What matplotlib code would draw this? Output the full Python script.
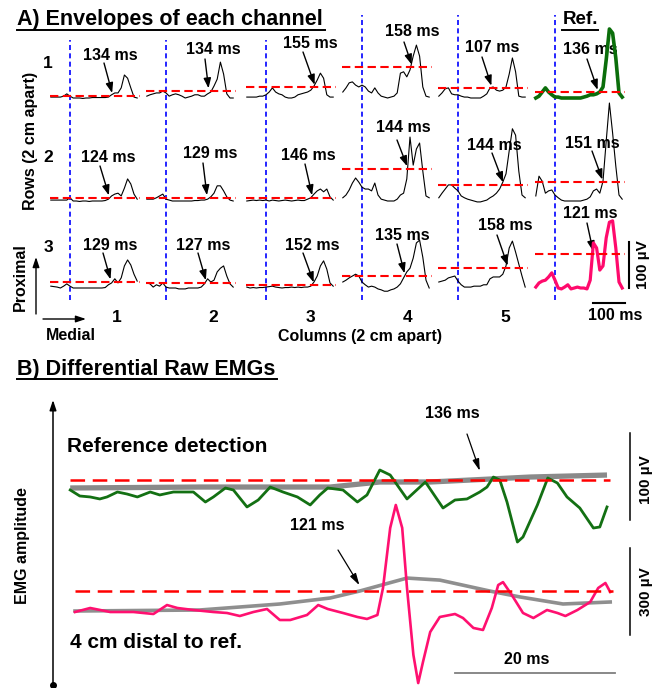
import matplotlib
matplotlib.use("Agg")
import matplotlib.pyplot as plt

plt.rcParams['font.family'] = ['Liberation Sans', 'DejaVu Sans']
plt.rcParams['font.weight'] = 'bold'
plt.rcParams['lines.scale_dashes'] = False
plt.rcParams['lines.solid_joinstyle'] = 'round'

# ---------------- DATA: panel A (envelopes, uV) ----------------
# time in ms relative to the blue marker of each column
t_env = [-60, -50, -40, -30, -20, -10, 0, 10, 20, 30, 40, 50, 60, 70,
         80, 90, 100, 110, 120, 130, 140, 150, 160, 170, 180, 190, 200, 210]

env_r1c1 = [2, 2, 2, 2, 4, 9, 4, 0, 0, 0, -1, 0, 0, 1, 1, 1, 1, 1, 2, 7, 11, 11, 22, 50, 43, 22, 2, 0]
env_r1c2 = [4, 7, 9, 11, 11, 15, 11, 4, 7, 9, 7, 4, 0, 2, 4, 7, 7, 4, 4, 9, 13, 26, 41, 78, 52, 9, 0, 0]
env_r1c3 = [2, 2, 2, 2, 4, 4, 7, 13, 22, 13, 9, 7, 2, 0, 0, 2, 7, 9, 11, 13, 17, 26, 39, 54, 43, 7, 2, 2]
env_r1c4 = [13, 22, 33, 35, 28, 24, 28, 24, 15, 11, 22, 11, 4, 2, 0, 2, 4, 11, 54, 57, 46, 61, 91, 115, 91, 24, 4, 2]
env_r1c5 = [4, 11, 20, 22, 9, 7, 7, 4, 2, 2, 0, 0, 0, 0, 4, 9, 22, 24, 17, 15, 17, 24, 52, 87, 57, 4, 2, 2]
env_r1ref = [0, 4, 13, 22, 13, 7, 2, 2, 0, 0, 0, 0, 0, 0, 0, 2, 4, 7, 7, 9, 13, 24, 83, 150, 141, 87, 11, 2]

env_r2c1 = [2, 2, 2, 2, 2, 2, 7, 0, 0, -1, 0, 0, -1, 0, 0, 0, 0, 1, 4, 11, 15, 17, 11, 28, 48, 37, 15, 4]
env_r2c2 = [4, 4, 4, 7, 11, 15, 4, 2, 0, 0, 0, 0, 0, 0, 0, 1, 1, 2, 2, 4, 9, 17, 33, 33, 22, 9, 2, 0]
env_r2c3 = [0, 1, 2, 1, 2, 1, 2, 0, 2, 1, 0, 1, 2, 1, 0, 1, 2, 1, 1, 4, 7, 15, 22, 26, 20, 26, 9, 2]
env_r2c4 = [7, 13, 24, 39, 50, 41, 30, 26, 26, 22, 39, 13, 4, 2, 0, 0, 0, 4, 13, 17, 48, 139, 78, 113, 126, 65, 11, 7]
env_r2c5 = [7, 17, 26, 35, 35, 28, 22, 11, 7, 4, 2, 0, -2, -2, 0, 2, 7, 11, 17, 26, 41, 59, 109, 157, 143, 65, 13, 7]
env_r2ref = [11, 54, 43, 17, 22, 24, 13, 7, 2, 0, 0, 0, 0, 0, 0, 2, 4, 9, 22, 26, 17, 43, 130, 213, 148, 76, 13, 4]

env_r3c1 = [4, 3, 2, 0, 4, 9, 4, 0, 0, 0, 0, 0, 0, 0, 0, 0, 0, 1, 7, 11, 20, 11, 22, 48, 61, 50, 30, 15]
env_r3c2 = [11, 9, 2, 7, 4, 11, 2, 0, 0, 0, -2, -2, -2, 0, 0, 0, 0, 2, 9, 20, 13, 17, 35, 43, 48, 26, 9, 2]
env_r3c3 = [2, 0, 1, 0, 1, 1, 2, 3, 4, 2, 1, 0, 1, 1, 2, 1, 2, 1, 2, 2, 4, 13, 26, 48, 59, 41, 11, 4]
env_r3c4 = [13, 17, 22, 26, 30, 26, 13, 7, 2, 4, 2, -2, -4, -7, -7, -4, -2, 2, 9, 22, 35, 43, 65, 98, 104, 67, 17, 0]
env_r3c5 = [13, 15, 17, 22, 24, 26, 15, 7, 2, 2, 2, 4, 4, 4, 7, 7, 20, 24, 24, 24, 30, 48, 87, 102, 78, 52, 26, 2]
env_r3ref = [2, 11, 15, 17, 24, 33, 17, 0, -2, 2, 7, -2, 0, 2, 0, 0, -2, 17, 98, 87, 39, 48, 109, 143, 146, 87, 13, 0]

onset_r1 = [134, 134, 155, 158, 107, 136]
onset_r2 = [124, 129, 146, 144, 144, 151]
onset_r3 = [129, 127, 152, 135, 158, 121]
thr_r1 = [5, 15, 23, 67, 21, 12]
thr_r2 = [6.5, 6.5, 6.5, 70, 35, 41]
thr_r3 = [13, 11, 6.5, 26, 43, 74]
col_labels = ['1', '2', '3', '4', '5']
row_labels = ['1', '2', '3']

# ---------------- DATA: panel B (raw EMG, uV vs ms) ----------------
t_ref = [84.4, 85.6, 86.9, 88.1, 89.0, 90.3, 91.5, 92.8, 94.4, 95.6,
         97.3, 99.8, 101.3, 102.3, 103.8, 104.8, 106.5, 107.9, 109.4, 111.0,
         112.8, 114.4, 115.6, 116.6, 118.5, 120.3, 121.5, 123.1, 124.4, 126.5,
         128.8, 131.0, 132.5, 134.0, 135.6, 136.5, 137.3, 138.1, 139.0, 140.3,
         141.0, 142.8, 144.1, 145.3, 146.5, 148.1, 149.8, 150.6, 151.5]
emg_ref = [0, -6.9, -8, -10.3, -8, -2.3, -4.6, -8, -2.3, -5.7,
           -2.3, -2.3, -13.8, -8, 2.3, 0, -19.5, -11.5, 3.4, -2.3,
           -8, -17.2, -5.7, 2.3, 0, -13.8, -5.7, 23, 17.2, -10.3,
           9.2, -20.7, -11.5, -10.3, -2.3, 3.4, 14.9, 11.5, -13.8, -59.8,
           -54, -17.2, 13.8, 8, -8, -20.7, -43.7, -42.5, -19.5]
t_ref_env = [84.4, 100.6, 116.9, 123.1, 129.4, 136.9, 141.9, 151.5]
env_ref = [2.3, 3.4, 3.4, 9.2, 9.2, 12.6, 14.9, 17.2]
thr_ref_b = 11.5
onset_ref_b = 136

t_dist = [85.0, 86.9, 89.4, 92.3, 94.8, 96.5, 97.8, 99.8, 102.3, 104.0,
          105.6, 107.3, 109.0, 110.6, 111.9, 114.0, 115.4, 116.6,
          118.5, 120.3, 121.5, 122.8, 123.5, 124.4, 125.1, 125.9, 126.5, 127.3,
          127.9, 128.5, 129.4, 130.6, 132.5, 133.5, 134.8, 136.0, 137.1, 137.9,
          138.5, 139.6, 141.0, 142.3, 144.0, 145.3, 146.3, 147.8, 149.4, 150.4,
          151.3, 151.9]
emg_dist = [0, 13.8, 0, 0, -6.9, 24, 13.8, 6.9, 0, -3.4,
            -13.8, 0, 10.3, -27.6, -27.6, -10.3, 24, 10.3,
            -3.4, -17.2, -24, -10.3, 82.8, 290, 369, 290, 82.8, -148,
            -245, -172, -69, -17.2, -6.9, -20.7, -55, -62, 13.8, 93,
            103, 58.6, -3.4, -20.7, 6.9, -3.4, -13.8, 6.9, 34.5, 82.8,
            100, 69]
t_dist_env = [85.0, 100.6, 110.6, 116.9, 120.6, 126.5, 130.6, 136.9, 140.6, 146.0, 151.9]
env_dist = [3.4, 6.9, 27.6, 48.3, 72.4, 117, 110, 72, 52, 27.6, 34.5]
thr_dist_b = 72
onset_dist_b = 121

# ---------------- LAYOUT ----------------
W, H = 663, 688
fig = plt.figure(figsize=(W / 100, H / 100), dpi=100)


def px_axes(box, xo, to, sx, yo, sy):
    """axes on a pixel box; data x=to at pixel xo (sx px/unit), y=0 at pixel yo (sy px/unit)"""
    x0, x1, y0, y1 = box
    ax = fig.add_axes([x0 / W, 1 - y1 / H, (x1 - x0) / W, (y1 - y0) / H])
    ax.set_xlim(to + (x0 - xo) / sx, to + (x1 - xo) / sx)
    ax.set_ylim((yo - y1) / sy, (yo - y0) / sy)
    ax.set_axis_off()
    return ax


col_x = [70, 166, 266, 362, 458, 555]
row_y = [98, 201, 288]
SX, SY = 0.32, 0.46
blue_top = [40, 40, 40, 15, 15, 15]

for c, xb in enumerate(col_x):
    axc = px_axes((xb - 25, xb + 78, blue_top[c], 300), xb, 0, SX, 300, SY)
    axc.axvline(0, color='#0000ff', lw=1.2, dashes=(3.6, 2.4))

ov = fig.add_axes([0, 0, 1, 1])
ov.set_xlim(0, W)
ov.set_ylim(H, 0)
ov.set_axis_off()

envs = [[env_r1c1, env_r1c2, env_r1c3, env_r1c4, env_r1c5, env_r1ref],
        [env_r2c1, env_r2c2, env_r2c3, env_r2c4, env_r2c5, env_r2ref],
        [env_r3c1, env_r3c2, env_r3c3, env_r3c4, env_r3c5, env_r3ref]]
onsets = [onset_r1, onset_r2, onset_r3]
thrs = [thr_r1, thr_r2, thr_r3]

lab_pos = [[(110, 55), (213, 50), (310, 43), (412, 32), (492, 47), (590, 50)],
           [(108, 158), (210, 154), (308, 155), (403, 128), (494, 145), (592, 143)],
           [(110, 245), (203, 245), (312, 245), (402, 235), (505, 226), (590, 213)]]
tail_pos = [[(104, 63), (205, 59), (303, 52), (404, 42), (482, 57), (587, 59)],
            [(100, 166), (203, 163), (305, 164), (397, 140), (492, 153), (592, 151)],
            [(103, 253), (198, 253), (303, 253), (397, 244), (497, 235), (587, 223)]]
ref_style = [dict(color='#0b6e0b', lw=2.6), dict(color='black', lw=0.8),
             dict(color='#ff0a6c', lw=2.3)]

cell_axes = {}
for r in range(3):
    for c in range(6):
        xb = col_x[c]
        ax = px_axes((xb - 25, xb + 78, row_y[r] - 110, row_y[r] + 20), xb, 0, SX, row_y[r], SY)
        cell_axes[(r, c)] = ax
        st = ref_style[r] if c == 5 else dict(color='black', lw=0.8)
        ax.plot(t_env, envs[r][c], clip_on=False, **st)
        ax.plot([t_env[0] - 2, t_env[-1] + 8], [thrs[r][c]] * 2, color='#ff0000',
                lw=1.5, dashes=(6, 3.2), clip_on=False)
        ov.annotate('', xy=(onsets[r][c], thrs[r][c]), xycoords=ax.transData,
                    xytext=tail_pos[r][c], textcoords='data',
                    arrowprops=dict(arrowstyle='-|>,head_length=0.6,head_width=0.22',
                                    color='black', lw=1.0, shrinkA=0, shrinkB=2,
                                    mutation_scale=10))
        ov.text(lab_pos[r][c][0], lab_pos[r][c][1], f'{onsets[r][c]} ms',
                ha='center', va='center', fontsize=11.5, fontweight='bold')

# scale bars panel A (in ref row 3 axes)
axs = cell_axes[(2, 5)]
axs.plot([231, 231], [0, 100], color='black', lw=1.5, clip_on=False)
axs.plot([118, 218], [-32, -32], color='black', lw=1.5, clip_on=False)
ov.text(643, 265, '100 µV', rotation=90, ha='center', va='center', fontsize=11)
ov.text(615, 315, '100 ms', ha='center', va='center', fontsize=11.5)

# panel A texts
tA = ov.text(17, 19, 'A) Envelopes of each channel', ha='left', va='center',
             fontsize=15.5, fontweight='bold')
ov.plot([17, 325], [30, 30], color='black', lw=1.4)
ov.text(580, 20, 'Ref.', ha='center', va='center', fontsize=13.5, fontweight='bold')
ov.plot([562, 598], [30, 30], color='black', lw=1.4)
for lbl, y in zip(row_labels, [64, 157, 248]):
    ov.text(48, y, lbl, ha='center', va='center', fontsize=12.5)
for lbl, x in zip(col_labels, [117, 213, 310, 408, 505]):
    ov.text(x, 317, lbl, ha='center', va='center', fontsize=12.5)
ov.text(31, 141, 'Rows (2 cm apart)', rotation=90, ha='center', va='center', fontsize=11.5)
ov.text(20, 277, 'Proximal', rotation=90, ha='center', va='center', fontsize=11.5)
ov.text(71, 335, 'Medial', ha='center', va='center', fontsize=11.5)
ov.text(360, 336, 'Columns (2 cm apart)', ha='center', va='center', fontsize=11.5)
arr = dict(arrowstyle='-|>,head_length=0.6,head_width=0.2', color='black', lw=1.0,
           shrinkA=0, shrinkB=0, mutation_scale=10)
ov.annotate('', xy=(36, 257), xytext=(36, 314), arrowprops=arr)
ov.annotate('', xy=(86, 319), xytext=(43, 319), arrowprops=arr)

# ---------------- panel B ----------------
BX0, BT0, BSX = 483, 136, 8.0
axb1 = px_axes((60, 663, 395, 565), BX0, BT0, BSX, 490, 0.87)
axb2 = px_axes((60, 663, 500, 688), BX0, BT0, BSX, 612, 0.29)

axb1.plot(t_ref_env, env_ref, color='#8a8a8a', lw=3.8, solid_capstyle='butt', clip_on=False)
axb1.plot(t_ref, emg_ref, color='#137013', lw=2.0, clip_on=False)
axb1.plot([t_ref[0], t_ref[-1] + 0.4], [thr_ref_b] * 2, color='#ff0000', lw=1.8,
          dashes=(10.5, 5.5), clip_on=False)

axb2.plot(t_dist_env, env_dist, color='#8f8f8f', lw=2.6, clip_on=False)
axb2.plot(t_dist, emg_dist, color='#ff1070', lw=1.9, clip_on=False)
axb2.plot([t_dist[0], t_dist[-1] + 0.4], [thr_dist_b] * 2, color='#ff0000', lw=1.8,
          dashes=(10.5, 5.5), clip_on=False)

# scale bars panel B
axb1.plot([154.4, 154.4], [-34.5, 65.5], color='black', lw=1.1, clip_on=False)
axb2.plot([154.4, 154.4], [-79.3, 220.7], color='black', lw=1.1, clip_on=False)
axb2.plot([132.5, 152.5], [-210, -210], color='#7f7f7f', lw=1.3, clip_on=False)
ov.text(646, 480, '100 µV', rotation=90, ha='center', va='center', fontsize=11)
ov.text(646, 592, '300 µV', rotation=90, ha='center', va='center', fontsize=11)
ov.text(527, 660, '20 ms', ha='center', va='center', fontsize=11.5)

barr = dict(arrowstyle='-|>,head_length=0.7,head_width=0.2', color='black', lw=0.9,
            shrinkA=0, mutation_scale=10)
ov.annotate('', xy=(onset_ref_b, thr_ref_b), xycoords=axb1.transData,
            xytext=(467, 434), textcoords='data', arrowprops=dict(barr, shrinkB=7))
ov.text(452, 413, f'{onset_ref_b} ms', ha='center', va='center', fontsize=11.5)
ov.annotate('', xy=(onset_dist_b, thr_dist_b), xycoords=axb2.transData,
            xytext=(338, 550), textcoords='data', arrowprops=dict(barr, shrinkB=5))
ov.text(317, 526, f'{onset_dist_b} ms', ha='center', va='center', fontsize=11.5)

ov.text(17, 369, 'B) Differential Raw EMGs', ha='left', va='center', fontsize=15.5)
ov.plot([17, 277], [379, 379], color='black', lw=1.4)
ov.text(67, 446, 'Reference detection', ha='left', va='center', fontsize=15)
ov.text(70, 642, '4 cm distal to ref.', ha='left', va='center', fontsize=15)
ov.text(23, 546, 'EMG amplitude', rotation=90, ha='center', va='center', fontsize=11.5)
ov.annotate('', xy=(53, 400), xytext=(53, 685), arrowprops=dict(arr, lw=1.1))
ov.plot([53], [685], 'o', color='black', ms=4)

fig.savefig('out.png', dpi=100)
